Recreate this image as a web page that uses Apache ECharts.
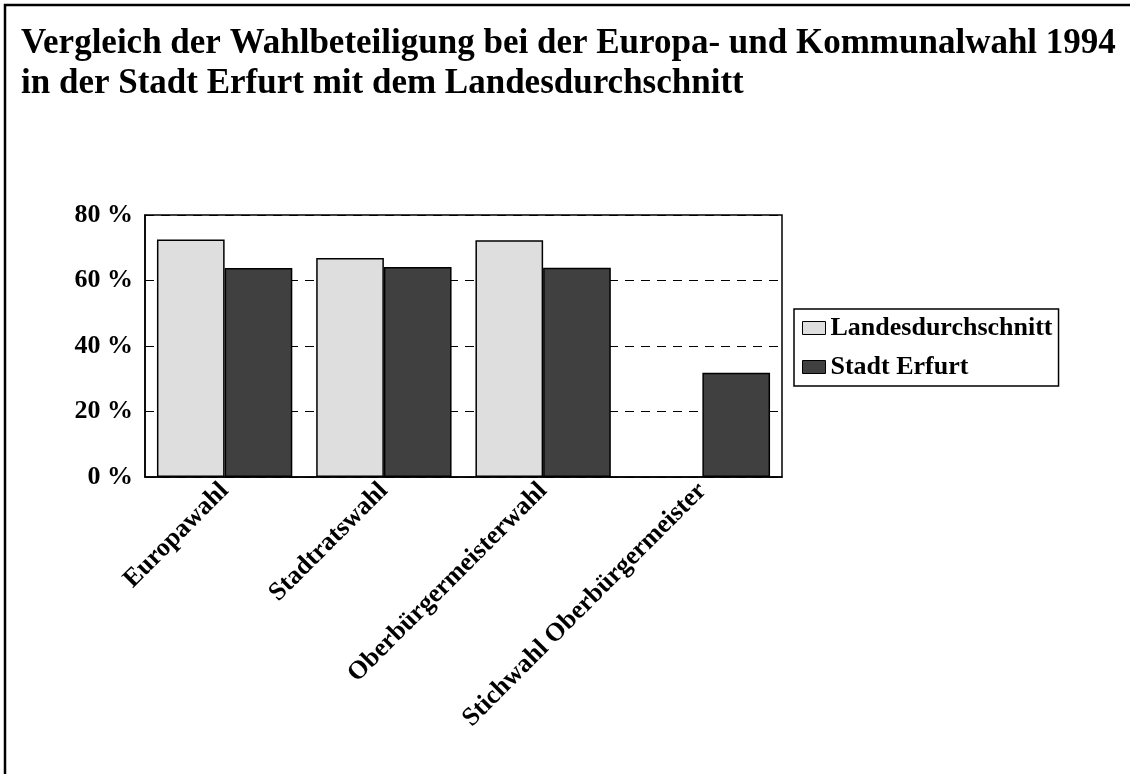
<!DOCTYPE html>
<html>
<head>
<meta charset="utf-8">
<script src="https://cdn.jsdelivr.net/npm/echarts@6/dist/echarts.min.js"></script>
<style>
  html, body { margin: 0; padding: 0; background: #fff; }
  #chart { width: 1130px; height: 774px; }
</style>
</head>
<body>
<div id="chart"></div>
<script>
// Daten
const categories = ['Europawahl', 'Stadtratswahl', 'Oberbürgermeisterwahl', 'Stichwahl Oberbürgermeister'];
const landesdurchschnitt = [72.5, 66.9, 72.3, null];
const stadtErfurt = [63.8, 64.1, 63.9, 31.8];
const yTicks = [0, 20, 40, 60, 80];

const font = '"Liberation Serif", "Times New Roman", serif';

const myChart = echarts.init(document.getElementById('chart'));
const option = {
  backgroundColor: '#fff',
  animation: false,
  title: {
    text: 'Vergleich der Wahlbeteiligung bei der Europa- und Kommunalwahl 1994\nin der Stadt Erfurt mit dem Landesdurchschnitt',
    left: 16,
    top: 19,
    textStyle: {
      fontFamily: font,
      fontWeight: 'bold',
      fontSize: 35,
      lineHeight: 40,
      color: '#000'
    }
  },
  // Rahmen nur links und oben
  graphic: [
    {
      type: 'polyline',
      shape: { points: [[5, 774], [5, 5], [1130, 5]] },
      style: { fill: 'none', stroke: '#000', lineWidth: 2.5 }
    }
  ],
  legend: {
    orient: 'vertical',
    left: 794,
    top: 309,
    padding: [6, 6, 6, 8],
    itemGap: 13,
    itemWidth: 23,
    itemHeight: 13,
    icon: 'rect',
    borderColor: '#000',
    borderWidth: 1.5,
    borderRadius: 0,
    itemStyle: { borderColor: '#000', borderWidth: 1 },
    textStyle: {
      fontFamily: font,
      fontWeight: 'bold',
      fontSize: 26,
      color: '#000'
    },
    data: ['Landesdurchschnitt', 'Stadt Erfurt']
  },
  grid: {
    left: 145,
    top: 215,
    width: 637,
    height: 262,
    show: true,
    borderColor: '#000',
    borderWidth: 1.5,
    backgroundColor: '#fff'
  },
  xAxis: {
    type: 'category',
    data: categories,
    axisLine: { lineStyle: { color: '#000', width: 1.5 } },
    axisTick: { show: false },
    axisLabel: {
      interval: 0,
      rotate: 45,
      margin: 10,
      fontFamily: font,
      fontWeight: 'bold',
      fontSize: 26,
      color: '#000'
    }
  },
  yAxis: {
    type: 'value',
    min: yTicks[0],
    max: yTicks[yTicks.length - 1],
    interval: 20,
    axisLine: { show: true, lineStyle: { color: '#000', width: 1.5 } },
    axisTick: { show: false },
    axisLabel: {
      formatter: '{value} %',
      margin: 12,
      fontFamily: font,
      fontWeight: 'bold',
      fontSize: 26,
      color: '#000'
    },
    splitLine: {
      show: true,
      lineStyle: { color: '#000', type: [9, 7], width: 1 }
    }
  },
  series: [
    {
      name: 'Landesdurchschnitt',
      type: 'bar',
      data: landesdurchschnitt,
      barGap: '0%',
      barCategoryGap: '15%',
      itemStyle: { color: '#dedede', borderColor: '#000', borderWidth: 1.5 }
    },
    {
      name: 'Stadt Erfurt',
      type: 'bar',
      data: stadtErfurt,
      barGap: '0%',
      barCategoryGap: '15%',
      itemStyle: { color: '#404040', borderColor: '#000', borderWidth: 1.5 }
    }
  ]
};
myChart.setOption(option);
</script>
</body>
</html>
